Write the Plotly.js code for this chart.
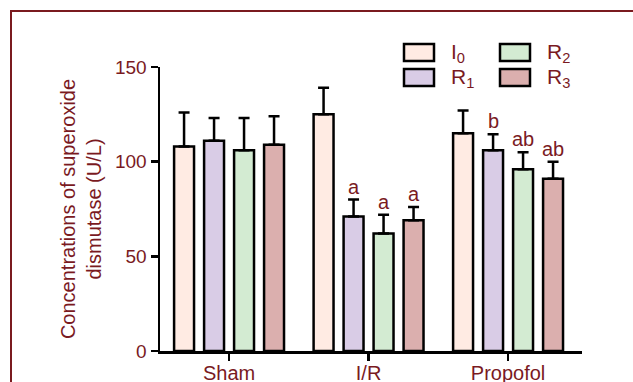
<!DOCTYPE html>
<html>
<head>
<meta charset="utf-8">
<script src="https://cdn.plot.ly/plotly-3.0.1.min.js"></script>
<style>html,body{margin:0;padding:0;background:#fff;}#chart{width:633px;height:382px;}</style>
</head>
<body>
<div id="chart"></div>
<script>
// ---- data ----
const groups = ["Sham", "I/R", "Propofol"];
const seriesNames = ["I<sub>0</sub>", "R<sub>1</sub>", "R<sub>2</sub>", "R<sub>3</sub>"];
const I0 = [108, 125, 115];
const R1 = [111, 71, 106];
const R2 = [106, 62, 96];
const R3 = [109, 69, 91];
const I0_err = [18, 14, 12];
const R1_err = [12, 9, 8.5];
const R2_err = [17, 10, 9];
const R3_err = [15, 7, 9];
const R1_marks = ["", "a", "b"];
const R2_marks = ["", "a", "ab"];
const R3_marks = ["", "a", "ab"];
const yTicks = [0, 50, 100, 150];

// ---- styling ----
const colors = ["#FFEBE3", "#D9CCE6", "#D3EBD2", "#DBAFAE"];
const textColor = "#7A1A1F";
const font = "Liberation Sans, Arial, sans-serif";
const values = [I0, R1, R2, R3];
const errs = [I0_err, R1_err, R2_err, R3_err];
const marks = [null, R1_marks, R2_marks, R3_marks];

const W = 633, H = 382;
const M = {l: 160, r: 51, t: 67, b: 31};
const pw = W - M.l - M.r, ph = H - M.t - M.b;
const px2x = px => (px - M.l) / pw;
const py2y = py => (H - M.b - py) / ph;

const bargap = 0.14;
const slot = (1 - bargap) / values.length;

const traces = values.map((v, i) => ({
  type: "bar",
  x: groups,
  y: v,
  name: seriesNames[i],
  marker: {color: colors[i], line: {color: "#000", width: 2.5}},
  error_y: {type: "data", symmetric: false, array: errs[i], arrayminus: v.map(() => 0),
            color: "#000", thickness: 2.5, width: 5.5},
  showlegend: false,
  hoverinfo: "skip"
}));

const annotations = [];
marks.forEach((m, si) => {
  if (!m) return;
  m.forEach((t, gi) => {
    if (!t) return;
    annotations.push({
      x: gi + (si - 1.5) * slot, xref: "x",
      y: values[si][gi] + errs[si][gi], yref: "y",
      text: t, showarrow: false, yanchor: "bottom", xanchor: "center", yshift: 0,
      font: {family: font, size: 20, color: textColor}
    });
  });
});

// manual legend (two columns, column-major)
const shapes = [];
const legendPos = [[404, 44], [404, 69], [500, 44], [500, 69]];
seriesNames.forEach((n, i) => {
  const [lx, ly] = legendPos[i];
  shapes.push({type: "rect", xref: "paper", yref: "paper",
    x0: px2x(lx), x1: px2x(lx + 30), y0: py2y(ly), y1: py2y(ly + 17),
    fillcolor: colors[i], line: {color: "#000", width: 2.5}});
  annotations.push({xref: "paper", yref: "paper", x: px2x(lx + 45), y: py2y(ly + 9),
    xanchor: "left", yanchor: "middle", showarrow: false, text: n,
    font: {family: font, size: 21, color: textColor}});
});

// outer frame
shapes.push({type: "rect", xref: "paper", yref: "paper",
  x0: px2x(11), x1: px2x(W + 20), y0: py2y(11), y1: py2y(H + 20),
  line: {color: "#7A1A1F", width: 2}, fillcolor: "rgba(0,0,0,0)", layer: "below"});

const layout = {
  width: W, height: H,
  margin: M,
  paper_bgcolor: "#fff", plot_bgcolor: "#fff",
  barmode: "group", bargap: bargap, bargroupgap: 0.335,
  showlegend: false,
  font: {family: font, color: textColor},
  xaxis: {
    type: "category", range: [-0.495, 2.53],
    showline: true, linecolor: "#000", linewidth: 2.5,
    ticks: "outside", ticklen: 7, tickwidth: 2.5, tickcolor: "#000",
    ticklabelstandoff: -5,
    showgrid: false, zeroline: false,
    tickfont: {family: font, size: 20, color: textColor}
  },
  yaxis: {
    range: [0, 150], tickvals: yTicks,
    showline: true, linecolor: "#000", linewidth: 2.5,
    ticks: "outside", ticklen: 7, tickwidth: 2.5, tickcolor: "#000",
    showgrid: false, zeroline: false,
    tickfont: {family: font, size: 19, color: textColor},
    title: {text: "Concentrations of superoxide<br>dismutase (U/L)", standoff: 8,
            font: {family: font, size: 20, color: textColor}}
  },
  shapes: shapes,
  annotations: annotations
};

Plotly.newPlot("chart", traces, layout, {staticPlot: true, displayModeBar: false});
</script>
</body>
</html>
